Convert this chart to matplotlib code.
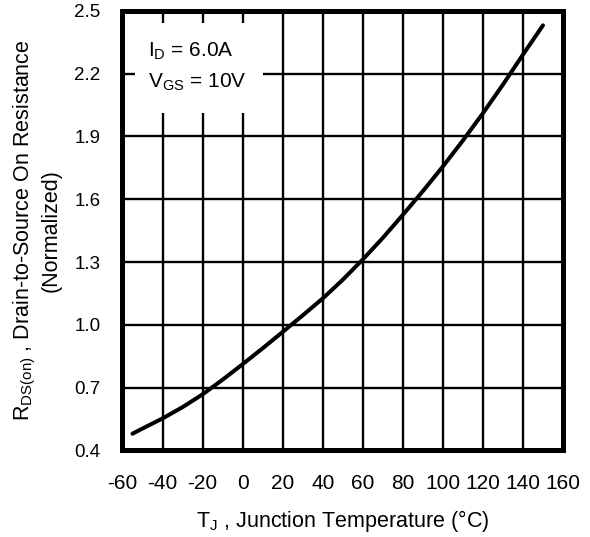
import numpy as np
import matplotlib
matplotlib.use("Agg")
import matplotlib.pyplot as plt
from matplotlib.patches import Rectangle

plt.rcParams['font.family'] = ['Liberation Sans', 'DejaVu Sans']
plt.rcParams['mathtext.fontset'] = 'custom'
plt.rcParams['mathtext.rm'] = 'Liberation Sans'

# junction temperature (C) and normalized on resistance
tempJ = [-55, -50, -40, -30, -20, -10, 0, 10, 20, 30, 40, 50, 60, 70, 80, 90,
         100, 110, 120, 130, 140, 150]
rdsNorm = [0.48, 0.505, 0.553, 0.607, 0.668, 0.738, 0.812, 0.888, 0.966, 1.045,
           1.126, 1.215, 1.312, 1.415, 1.525, 1.638, 1.756, 1.88, 2.01, 2.147,
           2.29, 2.43]

xTicks = np.arange(-60, 161, 20)
yTicks = [0.4, 0.7, 1.0, 1.3, 1.6, 1.9, 2.2, 2.5]

fig = plt.figure(figsize=(5.9, 5.37), dpi=100)
ax = fig.add_axes([0.2076, 0.1611, 0.7466, 0.819])

ax.set_xlim(-60, 160)
ax.set_ylim(0.4, 2.5)
ax.set_xticks(xTicks)
ax.set_yticks(yTicks)
ax.set_xticklabels([str(t) for t in xTicks], fontsize=15)
ax.set_yticklabels(['%.1f' % v for v in yTicks], fontsize=13.5)
ax.tick_params(length=0)
ax.tick_params(axis='y', pad=16)
ax.tick_params(axis='x', pad=17)

ax.grid(True, color='black', linewidth=1.7)
ax.set_axisbelow(True)
for s in ax.spines.values():
    s.set_linewidth(3.6)

ax.plot(tempJ, rdsNorm, color='black', linewidth=2.9, solid_capstyle='round', zorder=3)

# white patch behind the test conditions hides the grid
ax.add_patch(Rectangle((0.0284, 0.767), 0.29, 0.205, transform=ax.transAxes,
                       facecolor='white', edgecolor='none', zorder=2))
ax.text(0.058, 0.895, '$\\mathregular{I_D}$ = 6.0A', transform=ax.transAxes,
        fontsize=15, va='baseline', ha='left', zorder=4)
ax.text(0.058, 0.824, '$\\mathregular{V_{GS}}$ = 10V', transform=ax.transAxes,
        fontsize=15, va='baseline', ha='left', zorder=4)

ax.set_xlabel('$\\mathregular{T_J}$ , Junction Temperature (°C)', fontsize=15.5, labelpad=11)
ax.set_ylabel('$\\mathregular{R_{DS(on)}}$ , Drain-to-Source On Resistance\n(Normalized)',
              fontsize=15.5, labelpad=9, linespacing=1.15)

plt.savefig('out.png', dpi=100)
